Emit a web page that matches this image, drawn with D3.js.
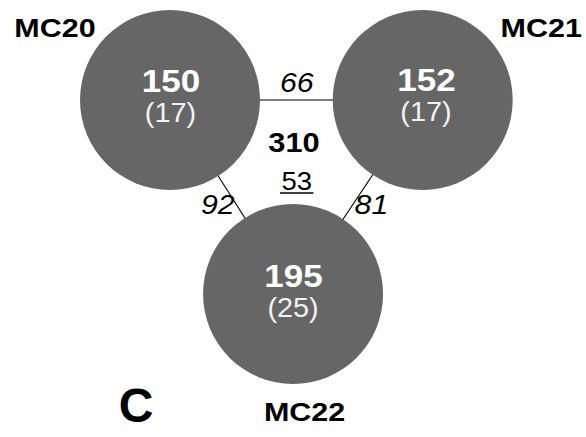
<!DOCTYPE html>
<html>
<head>
<meta charset="utf-8">
<script src="https://cdn.jsdelivr.net/npm/d3@7"></script>
<style>
  html, body { margin: 0; padding: 0; background: #fff; }
  svg { display: block; }
  text { font-family: "Liberation Sans", Arial, Helvetica, sans-serif; }
</style>
</head>
<body>
<div id="chart"></div>
<script>
// Gene-set overlap among three samples
const sets = ["MC20", "MC21", "MC22"];
const totals = [150, 152, 195];      // genes per sample
const uniques = [17, 17, 25];        // genes found only in that sample
const pairSources = ["MC20", "MC20", "MC21"];
const pairTargets = ["MC21", "MC22", "MC22"];
const pairShared = [66, 92, 81];     // genes shared by each pair
const coreShared = 310;              // genes shared by all three
const coreUnderlined = 53;
const panelLetter = "C";

const W = 586, H = 437;
const svg = d3.select("#chart").append("svg")
  .attr("width", W).attr("height", H);

// layout in unit coordinates mapped through linear scales
const x = d3.scaleLinear().domain([0, 1]).range([170, 422.7]);
const y = d3.scaleLinear().domain([0, 1]).range([100, 294]);
const nodePos = {
  MC20: [0, 0],
  MC21: [1, 0],
  MC22: [0.487, 1]
};
const innerShift = { MC20: [1, 0], MC21: [3.8, -1.5], MC22: [0.5, 1] };
const R = 90;

const nodes = sets.map((s, i) => ({
  name: s, total: totals[i], unique: uniques[i],
  cx: x(nodePos[s][0]), cy: y(nodePos[s][1])
}));
const byName = Object.fromEntries(nodes.map(n => [n.name, n]));
const links = pairShared.map((v, i) => ({
  source: byName[pairSources[i]], target: byName[pairTargets[i]], value: v
}));

function label(g, px, py, txt, opts) {
  const sx = opts.stretch || 1.12;
  return g.append("text")
    .attr("transform", `translate(${px},${py}) scale(${sx},1)`)
    .attr("text-anchor", "middle")
    .attr("font-size", opts.size)
    .attr("font-weight", opts.weight || "normal")
    .attr("font-style", opts.style || "normal")
    .attr("fill", opts.fill || "#000")
    .text(txt);
}

// connecting lines beneath the circles
svg.append("g").selectAll("line").data(links).join("line")
  .attr("x1", d => d.source.cx).attr("y1", d => d.source.cy)
  .attr("x2", d => d.target.cx).attr("y2", d => d.target.cy)
  .attr("stroke", "#000").attr("stroke-width", 1.1);

// circles
svg.append("g").selectAll("circle").data(nodes).join("circle")
  .attr("cx", d => d.cx).attr("cy", d => d.cy).attr("r", R)
  .attr("fill", "#666666");

// numbers inside circles
const inner = svg.append("g");
nodes.forEach(n => {
  const s = innerShift[n.name];
  label(inner, n.cx + s[0], n.cy + s[1] - 7.7, n.total, { size: 31, weight: "bold", fill: "#fff", stretch: 1.13 });
  label(inner, n.cx + s[0] - 0.5, n.cy + s[1] + 22.3, `(${n.unique})`, { size: 27, fill: "#f2f2f2", stretch: 1.07 });
});

// set names placed outside each circle
const nameOffsets = { MC20: [-115, -63.5], MC21: [118.5, -62.7], MC22: [11.5, 126.7] };
const names = svg.append("g");
nodes.forEach(n => {
  const o = nameOffsets[n.name];
  label(names, n.cx + o[0], n.cy + o[1], n.name, { size: 26.5, weight: "bold", stretch: 1.15 });
});

// pairwise shared counts beside each link
const linkLabelOffsets = [[0.5, -8.3], [-13.7, 17.3], [13.5, 17.3]];
const pairs = svg.append("g");
links.forEach((l, i) => {
  const mx = (l.source.cx + l.target.cx) / 2;
  const my = (l.source.cy + l.target.cy) / 2;
  const o = linkLabelOffsets[i];
  label(pairs, mx + o[0], my + o[1], l.value, { size: 27.5, style: "italic", stretch: 1.1 });
});

// core counts at the centre of the triangle
const cx0 = d3.mean(nodes, d => d.cx), cy0 = d3.mean(nodes, d => d.cy);
const core = svg.append("g");
label(core, cx0 - 1.3, cy0 - 13, coreShared, { size: 28, weight: "bold", stretch: 1.1 });
label(core, cx0 + 1.5, cy0 + 25.3, coreUnderlined, { size: 25.5, stretch: 1.08 });
core.append("line")
  .attr("x1", cx0 + 1.5 - 16.7).attr("x2", cx0 + 1.5 + 16.7)
  .attr("y1", cy0 + 28.3).attr("y2", cy0 + 28.3)
  .attr("stroke", "#000").attr("stroke-width", 1.6);

// panel letter
label(svg, 136, 421.5, panelLetter, { size: 48, weight: "bold", stretch: 1.0 });
</script>
</body>
</html>
